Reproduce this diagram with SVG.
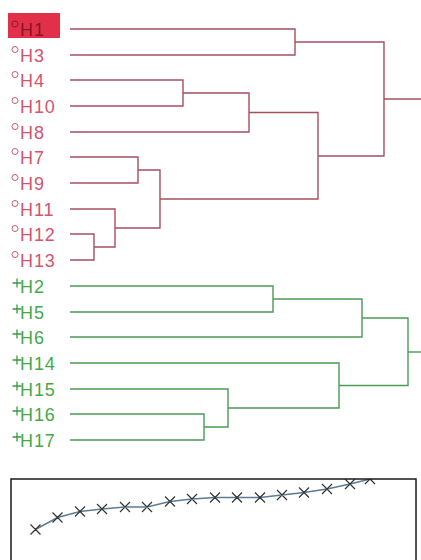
<svg xmlns="http://www.w3.org/2000/svg" width="421" height="560" viewBox="0 0 421 560">
<defs>
<style>
.r text{fill:#d4546c}
.g text{fill:#44aa48}
text{font-family:"Liberation Sans",Arial,sans-serif;font-size:18px;letter-spacing:0.9px}
.rl{fill:none;stroke:#a4505f;stroke-width:1.4}
.gl{fill:none;stroke:#4c9a55;stroke-width:1.4}
.circ{fill:none;stroke:#c85a70;stroke-width:1}
.plus{stroke:#3a9a40;stroke-width:1.3}
.x{stroke:#333;stroke-width:1.2}
</style>
<clipPath id="plotclip"><rect x="11" y="479" width="405" height="81"/></clipPath>
</defs>
<rect width="421" height="560" fill="#fff"/>

<g id="nodes">
<g id="H1" class="r"><rect x="8" y="13" width="52" height="25" fill="#e2304a"/><circle cx="15" cy="24" r="3" fill="none" stroke="#8a1a2a" stroke-width="1"/><text x="20" y="35.5" style="fill:#8a1624">H1</text></g>
<g id="H3" class="r"><circle class="circ" cx="15" cy="49.5" r="3"/><text x="20" y="61.5">H3</text></g>
<g id="H4" class="r"><circle class="circ" cx="15" cy="74.5" r="3"/><text x="20" y="86.5">H4</text></g>
<g id="H10" class="r"><circle class="circ" cx="15" cy="100.5" r="3"/><text x="20" y="112.5">H10</text></g>
<g id="H8" class="r"><circle class="circ" cx="15" cy="126.5" r="3"/><text x="20" y="138.5">H8</text></g>
<g id="H7" class="r"><circle class="circ" cx="15" cy="151.5" r="3"/><text x="20" y="163.5">H7</text></g>
<g id="H9" class="r"><circle class="circ" cx="15" cy="177.5" r="3"/><text x="20" y="189.5">H9</text></g>
<g id="H11" class="r"><circle class="circ" cx="15" cy="203.5" r="3"/><text x="20" y="215.5">H11</text></g>
<g id="H12" class="r"><circle class="circ" cx="15" cy="228.5" r="3"/><text x="20" y="240.5">H12</text></g>
<g id="H13" class="r"><circle class="circ" cx="15" cy="254.5" r="3"/><text x="20" y="266.5">H13</text></g>

<g id="H2" class="g"><path class="plus" d="M12.5 283h9M17 278.5v9"/><text x="20" y="292.5">H2</text></g>
<g id="H5" class="g"><path class="plus" d="M12.5 309h9M17 304.5v9"/><text x="20" y="318.5">H5</text></g>
<g id="H6" class="g"><path class="plus" d="M12.5 334h9M17 329.5v9"/><text x="20" y="343.5">H6</text></g>
<g id="H14" class="g"><path class="plus" d="M12.5 360h9M17 355.5v9"/><text x="20" y="369.5">H14</text></g>
<g id="H15" class="g"><path class="plus" d="M12.5 386h9M17 381.5v9"/><text x="20" y="395.5">H15</text></g>
<g id="H16" class="g"><path class="plus" d="M12.5 411h9M17 406.5v9"/><text x="20" y="420.5">H16</text></g>
<g id="H17" class="g"><path class="plus" d="M12.5 437h9M17 432.5v9"/><text x="20" y="446.5">H17</text></g>
</g>

<g id="connectors">
<path class="rl" d="M70 29H295V55H70"/>
<path class="rl" d="M70 80H183V106H70"/>
<path class="rl" d="M183 93H249V132H70"/>
<path class="rl" d="M70 157H138V183H70"/>
<path class="rl" d="M70 234H94V260H70"/>
<path class="rl" d="M70 209H115V247H94"/>
<path class="rl" d="M138 170H160V228H115"/>
<path class="rl" d="M249 112.5H318V199H160"/>
<path class="rl" d="M295 42H384V156H318"/>
<path class="rl" d="M384 99H421"/>

<path class="gl" d="M70 286H273V312H70"/>
<path class="gl" d="M273 299H362V337H70"/>
<path class="gl" d="M70 414H204V440H70"/>
<path class="gl" d="M70 389H228V427H204"/>
<path class="gl" d="M70 363H339V408H228"/>
<path class="gl" d="M362 318H408V385.5H339"/>
<path class="gl" d="M408 352H421"/>
</g>

<g id="plot">
<g clip-path="url(#plotclip)">
<polyline fill="none" stroke="#5d7c95" stroke-width="1.5" points="35.5,529.5 57.5,517.5 80,511.5 102,509 125,507 147,507 170,501.5 192,499 215,497.5 237,497.5 260,497.5 282,495 304,492.5 327,489 350,484 370,479 392,474"/>
<path class="x" d="M30.5 524.5l10 10M40.5 524.5l-10 10M52.5 512.5l10 10M62.5 512.5l-10 10M75 506.5l10 10M85 506.5l-10 10M97 504l10 10M107 504l-10 10M120 502l10 10M130 502l-10 10M142 502l10 10M152 502l-10 10M165 496.5l10 10M175 496.5l-10 10M187 494l10 10M197 494l-10 10M210 492.5l10 10M220 492.5l-10 10M232 492.5l10 10M242 492.5l-10 10M255 492.5l10 10M265 492.5l-10 10M277 490l10 10M287 490l-10 10M299 487.5l10 10M309 487.5l-10 10M322 484l10 10M332 484l-10 10M345 479l10 10M355 479l-10 10M365 474l10 10M375 474l-10 10"/>
</g>
<rect x="11" y="479" width="405" height="90" fill="none" stroke="#1a1a1a" stroke-width="1.5"/>
</g>
</svg>
